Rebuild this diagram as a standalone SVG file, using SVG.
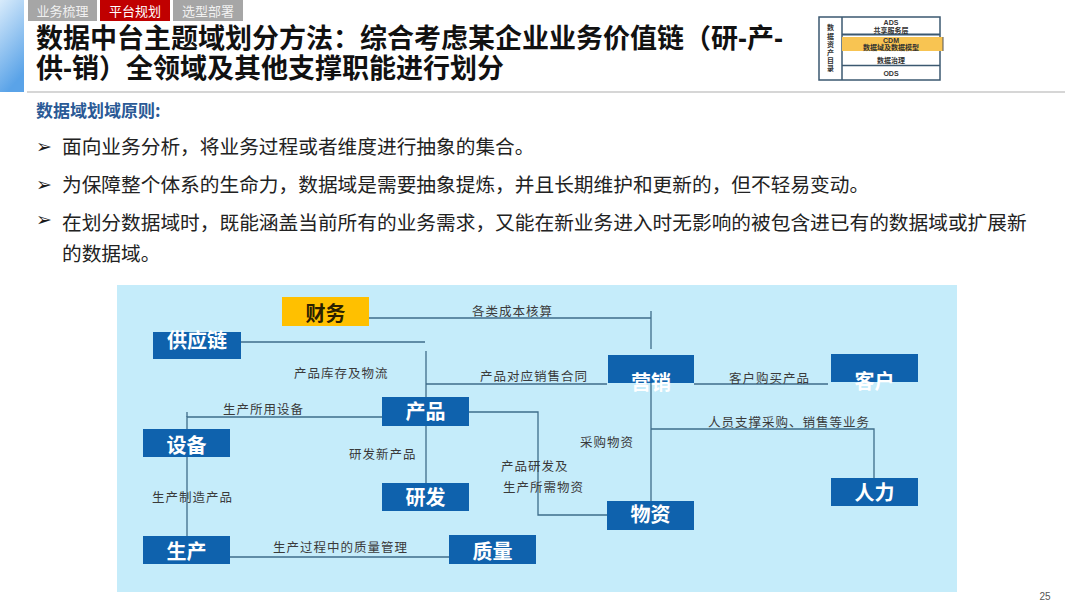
<svg xmlns="http://www.w3.org/2000/svg" width="1080" height="607" viewBox="0 0 1080 607">
<defs>
<linearGradient id="sideGrad" x1="0" y1="0" x2="0.3" y2="1">
<stop offset="0" stop-color="#d8ebfb"/>
<stop offset="1" stop-color="#5aa3e8"/>
</linearGradient>
<style>
.tab{font-family:'Noto Sans CJK SC',sans-serif;font-size:13px;fill:#fff}
.title{font-family:'Liberation Sans','Noto Sans CJK SC',sans-serif;font-size:27px;font-weight:bold;fill:#111}
.body{font-family:'Noto Sans CJK SC',sans-serif;font-size:19.7px;fill:#222}
.bul{font-family:'DejaVu Sans',sans-serif;font-size:19px;fill:#1a1a1a}
.node rect{fill:#0f62ad}
.node text{font-family:'Noto Sans CJK SC',sans-serif;font-size:20px;font-weight:bold;fill:#fff;text-anchor:middle}
.lbl{font-family:'Noto Sans CJK SC',sans-serif;font-size:12.5px;fill:#3a3a3a;letter-spacing:1px}
.conn{stroke:#3e6d8a;stroke-width:1.3;fill:none}
.mini{font-family:'Liberation Sans','Noto Sans CJK SC',sans-serif;font-size:7px;font-weight:bold;fill:#333;text-anchor:middle}
</style>
</defs>
<rect width="1080" height="607" fill="#fff"/>
<rect x="0" y="0" width="24" height="92" fill="url(#sideGrad)"/>
<g id="tabs">
<rect x="28" y="0" width="69" height="21" fill="#a6a6a6"/>
<text class="tab" x="62.5" y="16" text-anchor="middle" fill-opacity="0.85">业务梳理</text>
<rect x="100" y="0" width="70" height="21" fill="#c00000"/>
<text class="tab" x="135" y="16" text-anchor="middle">平台规划</text>
<rect x="173" y="0" width="70" height="21" fill="#a6a6a6"/>
<text class="tab" x="208" y="16" text-anchor="middle" fill-opacity="0.85">选型部署</text>
</g>
<text class="title" x="36" y="48">数据中台主题域划分方法：综合考虑某企业业务价值链（研-产-</text>
<text class="title" x="36" y="78">供-销）全领域及其他支撑职能进行划分</text>
<line x1="27" y1="92" x2="1065" y2="92" stroke="#c8c8c8" stroke-width="1.5"/>
<g id="mini-diagram">
<rect x="819" y="17" width="121" height="63" fill="#fff" stroke="#3b5870" stroke-width="1.5"/>
<line x1="842" y1="17" x2="842" y2="80" stroke="#3b5870" stroke-width="1.5"/>
<line x1="842" y1="34.5" x2="940" y2="34.5" stroke="#3b5870" stroke-width="1.8"/>
<rect x="842" y="37" width="101" height="14" fill="#f8c452"/>
<line x1="943" y1="37" x2="943" y2="51" stroke="#555" stroke-width="1"/>
<line x1="842" y1="65.5" x2="940" y2="65.5" stroke="#3b5870" stroke-width="1.5"/>
<text class="mini" x="891" y="25">ADS</text>
<text class="mini" x="891" y="33">共享服务层</text>
<text class="mini" x="891" y="43">CDM</text>
<text class="mini" x="891" y="50">数据域及数据模型</text>
<text class="mini" x="891" y="63">数据治理</text>
<text class="mini" x="891" y="76">ODS</text>
<text class="mini" x="830.5" y="30">数</text>
<text class="mini" x="830.5" y="38.5">据</text>
<text class="mini" x="830.5" y="47">资</text>
<text class="mini" x="830.5" y="55">产</text>
<text class="mini" x="830.5" y="63">目</text>
<text class="mini" x="830.5" y="71">录</text>
</g>
<text x="36" y="117" font-family="'Noto Sans CJK SC',sans-serif" font-size="17" font-weight="bold" fill="#2a5a96">数据域划域原则:</text>
<g id="bullets">
<text class="bul" x="36" y="153">➢</text>
<text class="body" x="62" y="154">面向业务分析，将业务过程或者维度进行抽象的集合。</text>
<text class="bul" x="36" y="191">➢</text>
<text class="body" x="62" y="192">为保障整个体系的生命力，数据域是需要抽象提炼，并且长期维护和更新的，但不轻易变动。</text>
<text class="bul" x="36" y="226">➢</text>
<text class="body" x="62" y="230">在划分数据域时，既能涵盖当前所有的业务需求，又能在新业务进入时无影响的被包含进已有的数据域或扩展新</text>
<text class="body" x="62" y="261">的数据域。</text>
</g>
<rect x="117" y="285" width="840" height="307" fill="#c5ecfa"/>
<g id="connectors">
<polyline class="conn" points="369,318 651,318"/>
<line class="conn" x1="651" y1="311" x2="651" y2="349"/>
<line class="conn" x1="241" y1="342" x2="425" y2="342"/>
<line class="conn" x1="426" y1="351" x2="426" y2="397"/>
<line class="conn" x1="426" y1="384" x2="607" y2="384"/>
<polyline class="conn" points="382,417 187,417 187,429"/>
<line class="conn" x1="187" y1="412" x2="187" y2="417"/>
<polyline class="conn" points="469,412 538,412 538,515 607,515"/>
<line class="conn" x1="426" y1="426" x2="426" y2="483"/>
<line class="conn" x1="187" y1="457" x2="187" y2="536"/>
<line class="conn" x1="230" y1="557" x2="449" y2="557"/>
<line class="conn" x1="651" y1="383" x2="651" y2="501"/>
<line class="conn" x1="694" y1="384" x2="828" y2="384"/>
<polyline class="conn" points="651,429 874,429 874,478"/>
</g>
<g id="labels">
<text class="lbl" x="472" y="316">各类成本核算</text>
<text class="lbl" x="294" y="378">产品库存及物流</text>
<text class="lbl" x="480" y="381">产品对应销售合同</text>
<text class="lbl" x="223" y="414">生产所用设备</text>
<text class="lbl" x="349" y="459">研发新产品</text>
<text class="lbl" x="501" y="471">产品研发及</text>
<text class="lbl" x="503" y="492">生产所需物资</text>
<text class="lbl" x="580" y="447">采购物资</text>
<text class="lbl" x="152" y="502">生产制造产品</text>
<text class="lbl" x="273" y="552">生产过程中的质量管理</text>
<text class="lbl" x="729" y="383">客户购买产品</text>
<text class="lbl" x="708" y="427">人员支撑采购、销售等业务</text>
</g>
<g id="node-caiwu" class="node">
<rect x="282" y="297" width="87" height="29" style="fill:#ffc000"/>
<text x="325.5" y="321" style="fill:#2a2000">财务</text>
</g>
<g id="node-gongyinglian" class="node">
<rect x="153" y="332" width="88" height="27"/>
<text x="197" y="348">供应链</text>
</g>
<g id="node-chanpin" class="node">
<rect x="382" y="397" width="87" height="29"/>
<text x="425.5" y="419">产品</text>
</g>
<g id="node-yingxiao" class="node">
<rect x="608" y="355" width="86" height="28"/>
<text x="651" y="390">营销</text>
</g>
<g id="node-kehu" class="node">
<rect x="831" y="354" width="87" height="28"/>
<text x="874.5" y="389">客户</text>
</g>
<g id="node-shebei" class="node">
<rect x="143" y="429" width="87" height="28"/>
<text x="186.5" y="453">设备</text>
</g>
<g id="node-yanfa" class="node">
<rect x="382" y="483" width="87" height="28"/>
<text x="425.5" y="505">研发</text>
</g>
<g id="node-shengchan" class="node">
<rect x="143" y="536" width="87" height="28"/>
<text x="186.5" y="559">生产</text>
</g>
<g id="node-zhiliang" class="node">
<rect x="449" y="535" width="87" height="29"/>
<text x="492.5" y="559">质量</text>
</g>
<g id="node-wuzi" class="node">
<rect x="607" y="501" width="87" height="29"/>
<text x="650.5" y="522">物资</text>
</g>
<g id="node-renli" class="node">
<rect x="831" y="478" width="87" height="28"/>
<text x="874.5" y="500">人力</text>
</g>
<text x="1045" y="600" text-anchor="middle" font-family="'Liberation Sans',sans-serif" font-size="10" fill="#555">25</text>
</svg>
